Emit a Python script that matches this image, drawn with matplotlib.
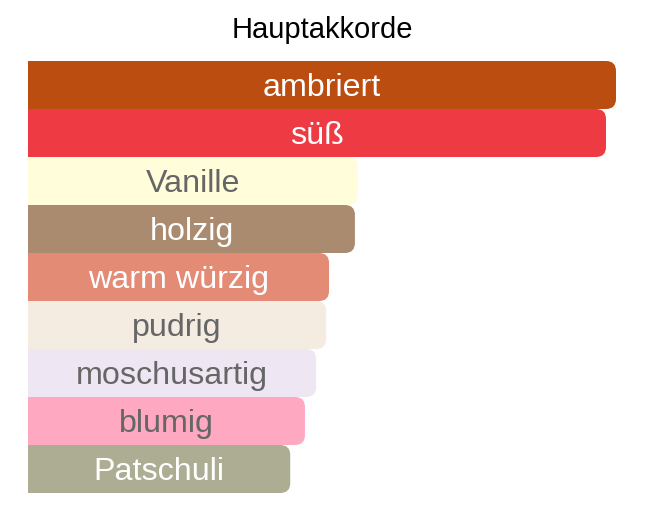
import matplotlib
matplotlib.use("Agg")
import matplotlib.pyplot as plt
from matplotlib.patches import FancyBboxPatch

categories = ["ambriert", "süß", "Vanille", "holzig", "warm würzig", "pudrig",
              "moschusartig", "blumig", "Patschuli"]
values = [100, 98.3, 56.1, 55.6, 51.2, 50.7, 49.0, 47.1, 44.6]
colors = ["#BC4D10", "#EE3B43", "#FFFDDA", "#AA8B70", "#E38B75", "#F4EBE1",
          "#EFE6F3", "#FEA8C1", "#ADAD93"]
text_colors = ["white", "white", "#666666", "white", "white", "#666666",
               "#666666", "#666666", "white"]
title = "Hauptakkorde"

W, H, DPI = 658, 518, 100
fig = plt.figure(figsize=(W / DPI, H / DPI), dpi=DPI)
ax_left, ax_right = 28, 628
ax_top, ax_bot = 61, 493
ax = fig.add_axes([ax_left / W, (H - ax_bot) / H, (ax_right - ax_left) / W, (ax_bot - ax_top) / H])
xmax = 100 * (ax_right - ax_left) / 588.0
ax.set_xlim(0, xmax)
ax.set_ylim(len(categories) - 0.5, -0.5)
ax.axis("off")

px_per_x = (ax_right - ax_left) / xmax
px_per_y = (ax_bot - ax_top) / len(categories)
r_px = 10
rx = r_px / px_per_x
ry = r_px / px_per_y
baseline_off = 11 / px_per_y

bars = ax.barh(range(len(categories)), values, height=1.0, color=colors)
for b, c, tc, cat in zip(bars, colors, text_colors, categories):
    x0, y0 = b.get_x(), b.get_y()
    w, h = b.get_width(), b.get_height()
    b.set_visible(False)
    p = FancyBboxPatch((x0 - 2 * rx, y0), w + 2 * rx, h,
                       boxstyle=f"round,pad=0,rounding_size={rx}",
                       mutation_aspect=ry / rx,
                       facecolor=c, edgecolor="none", clip_on=True)
    ax.add_patch(p)
    p.set_clip_path(ax.patch)
    ax.text(w / 2, y0 + h / 2 + baseline_off, cat, ha="center", va="baseline", color=tc,
            fontsize=23.2, family=["Liberation Sans", "DejaVu Sans"])

fig.text(322 / W, 1 - 38 / H, title, ha="center", va="baseline", fontsize=21,
         family=["Liberation Sans", "DejaVu Sans"], color="black")

fig.savefig("out.png", dpi=DPI)
